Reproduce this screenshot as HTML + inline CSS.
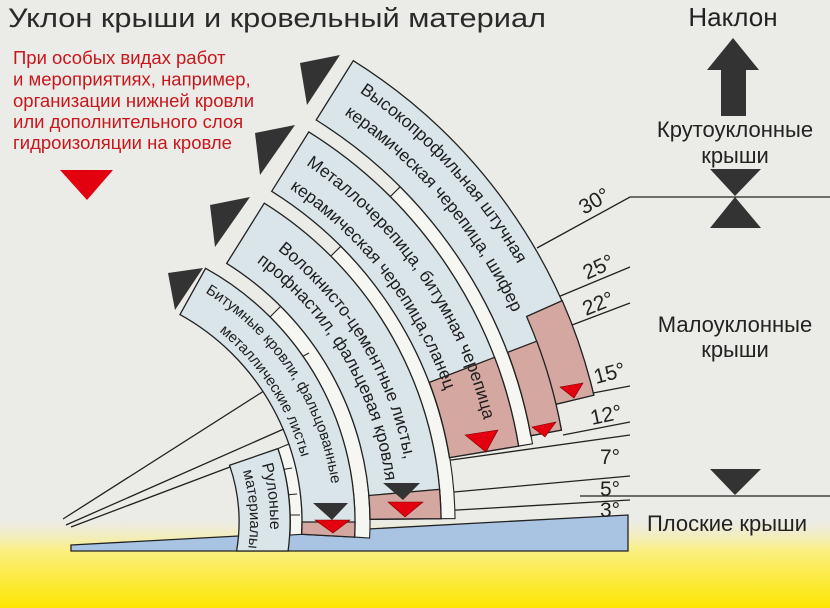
<!DOCTYPE html>
<html><head><meta charset="utf-8"><style>
html,body{margin:0;padding:0;background:#ebebe7;}
svg{display:block;font-family:"Liberation Sans","DejaVu Sans",sans-serif;}
</style></head><body>
<svg width="830" height="608" viewBox="0 0 830 608" xmlns="http://www.w3.org/2000/svg">
<defs>
<linearGradient id="yel" x1="0" y1="0" x2="0" y2="1">
<stop offset="0" stop-color="#f6f0b0" stop-opacity="0"/>
<stop offset="0.35" stop-color="#fbef80"/>
<stop offset="1" stop-color="#fde600"/>
</linearGradient>
<path id="t4a" d="M359.4,92.2 A521,521 0 0 1 578.2,612.7"/>
<path id="t4b" d="M344.1,114.4 A494,494 0 0 1 551.6,608"/>
<path id="t3a" d="M305.9,164.7 A431,431 0 0 1 489.5,597"/>
<path id="t3b" d="M289.7,188.7 A402,402 0 0 1 461,592"/>
<path id="t2a" d="M277.5,250.1 A345,345 0 0 1 404.8,582"/>
<path id="t2b" d="M256.5,262 A323,323 0 0 1 383.2,578.2"/>
<path id="t1a" d="M205.1,292.5 A269,269 0 0 1 330,568.8"/>
<path id="t1b" d="M219.1,331.6 A245,245 0 0 1 306.3,564.6"/>
<path id="r1" d="M261.8,464.4 A205,205 0 0 1 266.9,557.7"/>
<path id="r2" d="M242.8,470.9 A185,185 0 0 1 247.2,554.2"/>
</defs>
<rect x="0" y="0" width="830" height="608" fill="#ebebe7"/>
<rect x="0" y="520" width="830" height="88" fill="url(#yel)"/>

<text x="8" y="27" font-size="27" fill="#2a2a2a" textLength="538" lengthAdjust="spacingAndGlyphs">Уклон крыши и кровельный материал</text>
<g font-size="18.5" fill="#c8161d">
<text x="13" y="64">При особых видах работ</text>
<text x="13" y="85.5">и мероприятиях, например,</text>
<text x="13" y="107">организации нижней кровли</text>
<text x="13" y="128">или дополнительного слоя</text>
<text x="13" y="149">гидроизоляции на кровле</text>
</g>
<polygon points="60,170 113,170 87,200" fill="#e3000f"/>

<text x="733" y="26" font-size="26" fill="#222" text-anchor="middle">Наклон</text>
<polygon points="733,38 759,70 707,70" fill="#333"/>
<rect x="721" y="70" width="25" height="46" fill="#333"/>
<text x="735" y="137" font-size="22" fill="#222" text-anchor="middle">Крутоуклонные</text>
<text x="735" y="163" font-size="22" fill="#222" text-anchor="middle">крыши</text>
<polygon points="710,169 761,169 735,196" fill="#333"/>
<polygon points="735,197 761,228 710,228" fill="#333"/>
<text x="735" y="332" font-size="22" fill="#222" text-anchor="middle">Малоуклонные</text>
<text x="735" y="357" font-size="22" fill="#222" text-anchor="middle">крыши</text>
<polygon points="710,469 761,469 735,495" fill="#333"/>
<text x="727" y="531" font-size="22" fill="#222" text-anchor="middle">Плоские крыши</text>

<g stroke="#222" stroke-width="1.3" fill="none">
<polyline points="537,248 630,197 830,197"/>
<line x1="558" y1="297" x2="630" y2="267"/>
<line x1="572" y1="325" x2="630" y2="303"/>
<line x1="593" y1="393" x2="630" y2="386"/>
<line x1="563" y1="435" x2="630" y2="422"/>
<line x1="437" y1="462" x2="630" y2="435"/>
<line x1="443" y1="493" x2="630" y2="476"/>
<line x1="440" y1="511" x2="630" y2="500"/>
<line x1="580" y1="496" x2="830" y2="496"/>
<line x1="63" y1="519" x2="267" y2="389"/>
<line x1="66" y1="525" x2="286" y2="428"/>
<line x1="71" y1="527" x2="230" y2="467"/>
</g>

<polygon points="71,545 628,515 628,551 71,551" fill="#a9c3e3" stroke="#222" stroke-width="1.3"/>

<g fill="#f6f6f3" stroke="#222" stroke-width="1.1">
<path d="M390.2,196.7 L400.1,186.8 A474,474 0 0 1 532.5,443.8 L518.6,446.1 A460,460 0 0 0 390.2,196.7 Z"/>
<path d="M330.8,256.1 L340.8,246.3 A390,390 0 0 1 455,518.6 L441,518.7 A376,376 0 0 0 330.8,256.1 Z"/>
<path d="M270,317 L280.6,306.4 A305,305 0 0 1 369.6,538 L354.6,537.1 A290,290 0 0 0 270,317 Z"/>
<path d="M277.9,448.6 L289,444 A237,237 0 0 1 301.7,534.3 L290,535 A225,225 0 0 0 277.9,448.6 Z"/>
</g>
<g stroke="#222" stroke-width="1">
<line x1="420" y1="280" x2="432" y2="272"/><line x1="440" y1="320" x2="453" y2="313"/><line x1="460" y1="360" x2="473" y2="354"/><line x1="478" y1="398" x2="492" y2="394"/><line x1="495" y1="420" x2="509" y2="416"/>
<line x1="360" y1="320" x2="372" y2="312"/><line x1="380" y1="360" x2="393" y2="354"/><line x1="398" y1="400" x2="411" y2="396"/><line x1="412" y1="440" x2="426" y2="437"/><line x1="421" y1="470" x2="435" y2="468"/><line x1="425" y1="495" x2="440" y2="494"/>
<line x1="296" y1="360" x2="309" y2="353"/><line x1="313" y1="400" x2="326" y2="395"/><line x1="326" y1="440" x2="340" y2="437"/><line x1="334" y1="470" x2="348" y2="468"/><line x1="338" y1="495" x2="353" y2="494"/><line x1="341" y1="515" x2="355" y2="515"/>
<line x1="280" y1="470" x2="292" y2="468"/><line x1="285" y1="495" x2="297" y2="494"/><line x1="288" y1="515" x2="300" y2="515"/>
</g>

<g fill="#d9e5e9" stroke="#222" stroke-width="1.3">
<path d="M316.2,120 L353.3,60.7 A544,544 0 0 1 593.8,395.2 L555.9,404.3 A505,505 0 0 1 561.4,430.1 L530.9,435.7 A474,474 0 0 0 316.2,120 Z"/>
<path d="M271.7,191.3 L308.8,131.9 A460,460 0 0 1 518.6,446.1 L449.5,457.6 A390,390 0 0 0 271.7,191.3 Z"/>
<path d="M226.7,263.4 L264.3,203.2 A376,376 0 0 1 441,518.7 L370,519.3 A305,305 0 0 0 226.7,263.4 Z"/>
<path d="M180,314.6 L205.6,268.3 A290,290 0 0 1 354.6,537.1 L301.7,534.3 A237,237 0 0 0 180,314.6 Z"/>
<path d="M229.6,465.3 L277.9,448.6 A225,225 0 0 1 288.1,551 L236.6,551 A174,174 0 0 0 229.6,465.3 Z"/>
</g>
<g fill="#d5a7a1" stroke="#222" stroke-width="1.3">
<path d="M526.6,316.5 L562.2,300.6 A544,544 0 0 1 593.8,395.2 L555.9,404.3 A505,505 0 0 0 526.6,316.5 Z"/>
<path d="M507.7,352.3 L536.7,341.2 A505,505 0 0 1 561.4,430.1 L530.9,435.7 A474,474 0 0 0 507.7,352.3 Z"/>
<path d="M429.3,382.4 L494.6,357.3 A460,460 0 0 1 518.6,446.1 L449.5,457.6 A390,390 0 0 0 429.3,382.4 Z"/>
<path d="M368.8,495.5 L439.5,489.3 A376,376 0 0 1 441,518.7 L370,519.3 A305,305 0 0 0 368.8,495.5 Z"/>
<path d="M302,522 L355,522 A290,290 0 0 1 354.6,537.1 L301.7,534.3 A237,237 0 0 0 302,522 Z"/>
</g>

<g font-size="17.5" fill="#1e1e1e">
<text><textPath href="#t4a">Высокопрофильная штучная</textPath></text>
<text><textPath href="#t4b">керамическая черепица, шифер</textPath></text>
<text><textPath href="#t3a">Металлочерепица, битумная черепица</textPath></text>
<text><textPath href="#t3b">керамическая черепица,сланец</textPath></text>
<text><textPath href="#t2a">Волокнисто-цементные листы,</textPath></text>
<text><textPath href="#t2b">профнастил, фальцевая кровля</textPath></text>
</g>
<g font-size="15" fill="#1e1e1e">
<text><textPath href="#t1a">Битумные кровли, фальцованные</textPath></text>
<text><textPath href="#t1b">металлические листы</textPath></text>
<text font-size="16"><textPath href="#r1">Рулоные</textPath></text>
<text><textPath href="#r2">материалы</textPath></text>
</g>

<g fill="#333">
<polygon points="300,63 340,55 307,105"/>
<polygon points="255,133 295,125 260,175"/>
<polygon points="210,205 250,197 215,247"/>
<polygon points="168,273 203,268 175,310"/>
<polygon points="383,483 420,483 403,500"/>
<polygon points="313,503 348,503 332,520"/>
</g>
<g fill="#e3000f" stroke="#7a0000" stroke-width="0.6">
<polygon points="388,502 423,502 405,517"/>
<polygon points="315,520 350,520 333,533"/>
<polygon points="465,435 498,430 486,452"/>
<polygon points="532,427 556,422 545,437"/>
<polygon points="560,387 583,383 574,398"/>
</g>

<g font-size="21" fill="#222">
<text transform="translate(584,215) rotate(-30)">30°</text>
<text transform="translate(587,280) rotate(-25)">25°</text>
<text transform="translate(586,316) rotate(-22)">22°</text>
<text transform="translate(596,384) rotate(-15)">15°</text>
<text transform="translate(592,425) rotate(-12)">12°</text>
<text x="600" y="464">7°</text>
<text x="600" y="496">5°</text>
<text x="600" y="517">3°</text>
</g>
</svg>
</body></html>
